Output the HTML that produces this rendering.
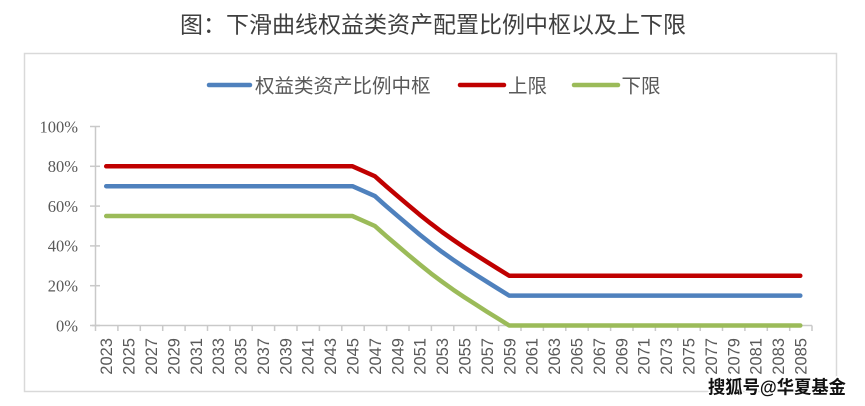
<!DOCTYPE html>
<html>
<head>
<meta charset="utf-8">
<style>
html,body{margin:0;padding:0;background:#fff;}
svg{display:block;}
</style>
</head>
<body>
<svg width="865" height="406" viewBox="0 0 865 406" xmlns="http://www.w3.org/2000/svg">
<rect x="0" y="0" width="865" height="406" fill="#fff"/>
<text x="433" y="32.5" text-anchor="middle" font-family="'Liberation Sans','Noto Sans CJK SC',sans-serif" font-size="23" fill="#3f3f3f">图：下滑曲线权益类资产配置比例中枢以及上下限</text>
<rect x="24.5" y="53.5" width="812" height="338" fill="none" stroke="#D9D9D9" stroke-width="1.5"/>
<!-- legend -->
<g stroke-width="4.5" stroke-linecap="round">
<line x1="209" y1="85" x2="250" y2="85" stroke="#4F81BD"/>
<line x1="460" y1="85" x2="504" y2="85" stroke="#C00000"/>
<line x1="574" y1="85" x2="618" y2="85" stroke="#9BBB59"/>
</g>
<g font-family="'Liberation Sans','Noto Sans CJK SC',sans-serif" font-size="19.5" fill="#595959">
<text x="255" y="92.5">权益类资产比例中枢</text>
<text x="508" y="92.5">上限</text>
<text x="621.5" y="92.5">下限</text>
</g>
<!-- axes -->
<g stroke="#C9C9C9" stroke-width="1.5" fill="none">
<line x1="95.5" y1="126.5" x2="95.5" y2="331"/>
<line x1="92" y1="325.5" x2="812" y2="325.5"/>
<line x1="90" y1="126.5" x2="100" y2="126.5"/>
<line x1="90" y1="166.3" x2="100" y2="166.3"/>
<line x1="90" y1="206.1" x2="100" y2="206.1"/>
<line x1="90" y1="245.9" x2="100" y2="245.9"/>
<line x1="90" y1="285.7" x2="100" y2="285.7"/>
<line x1="90" y1="325.5" x2="100" y2="325.5"/>
<path d="M117.9 325.5V331M140.3 325.5V331M162.7 325.5V331M185.1 325.5V331M207.5 325.5V331M229.9 325.5V331M252.2 325.5V331M274.6 325.5V331M297 325.5V331M319.4 325.5V331M341.8 325.5V331M364.2 325.5V331M386.6 325.5V331M409 325.5V331M431.4 325.5V331M453.8 325.5V331M476.2 325.5V331M498.6 325.5V331M521 325.5V331M543.4 325.5V331M565.8 325.5V331M588.2 325.5V331M610.6 325.5V331M633 325.5V331M655.4 325.5V331M677.8 325.5V331M700.2 325.5V331M722.5 325.5V331M744.9 325.5V331M767.3 325.5V331M789.7 325.5V331M812 325.5V331"/>
</g>
<!-- y labels -->
<g font-family="'Liberation Serif',serif" font-size="16.5" fill="#595959" text-anchor="end">
<text x="78" y="132.3">100%</text>
<text x="78" y="172.1">80%</text>
<text x="78" y="211.9">60%</text>
<text x="78" y="251.7">40%</text>
<text x="78" y="291.5">20%</text>
<text x="78" y="331.3">0%</text>
</g>
<!-- x labels -->
<g font-family="'Liberation Sans',sans-serif" font-size="16.5" fill="#595959" text-anchor="end">
<text transform="translate(112.2,338) rotate(-90)">2023</text>
<text transform="translate(134.6,338) rotate(-90)">2025</text>
<text transform="translate(157,338) rotate(-90)">2027</text>
<text transform="translate(179.4,338) rotate(-90)">2029</text>
<text transform="translate(201.8,338) rotate(-90)">2031</text>
<text transform="translate(224.2,338) rotate(-90)">2033</text>
<text transform="translate(246.6,338) rotate(-90)">2035</text>
<text transform="translate(268.9,338) rotate(-90)">2037</text>
<text transform="translate(291.3,338) rotate(-90)">2039</text>
<text transform="translate(313.7,338) rotate(-90)">2041</text>
<text transform="translate(336.1,338) rotate(-90)">2043</text>
<text transform="translate(358.5,338) rotate(-90)">2045</text>
<text transform="translate(380.9,338) rotate(-90)">2047</text>
<text transform="translate(403.3,338) rotate(-90)">2049</text>
<text transform="translate(425.7,338) rotate(-90)">2051</text>
<text transform="translate(448.1,338) rotate(-90)">2053</text>
<text transform="translate(470.5,338) rotate(-90)">2055</text>
<text transform="translate(492.9,338) rotate(-90)">2057</text>
<text transform="translate(515.3,338) rotate(-90)">2059</text>
<text transform="translate(537.7,338) rotate(-90)">2061</text>
<text transform="translate(560.1,338) rotate(-90)">2063</text>
<text transform="translate(582.5,338) rotate(-90)">2065</text>
<text transform="translate(604.9,338) rotate(-90)">2067</text>
<text transform="translate(627.3,338) rotate(-90)">2069</text>
<text transform="translate(649.7,338) rotate(-90)">2071</text>
<text transform="translate(672.1,338) rotate(-90)">2073</text>
<text transform="translate(694.5,338) rotate(-90)">2075</text>
<text transform="translate(716.9,338) rotate(-90)">2077</text>
<text transform="translate(739.3,338) rotate(-90)">2079</text>
<text transform="translate(761.7,338) rotate(-90)">2081</text>
<text transform="translate(784.1,338) rotate(-90)">2083</text>
<text transform="translate(806.3,338) rotate(-90)">2085</text>
</g>
<!-- series -->
<g fill="none" stroke-width="4.5" stroke-linecap="round" stroke-linejoin="round">
<polyline stroke="#9BBB59" points="106.2,216.05 352.5,216.05 374.9,226 386.1,235.95 397.3,245.5 408.5,255.05 419.7,264.4 430.9,273.4 442,281.7 453.2,289.7 464.4,297.2 475.6,304.4 486.8,311.6 498,318.5 509.2,325.5 800.3,325.5"/>
<polyline stroke="#4F81BD" points="106.2,186.2 352.5,186.2 374.9,196.1 386.1,206.1 397.3,215.7 408.5,225.2 419.7,234.6 430.9,243.5 442,251.9 453.2,259.8 464.4,267.4 475.6,274.6 486.8,281.7 498,288.7 509.2,295.65 800.3,295.65"/>
<polyline stroke="#C00000" points="106.2,166.3 352.5,166.3 374.9,176.25 386.1,186.2 397.3,195.8 408.5,205.3 419.7,214.7 430.9,223.6 442,232 453.2,239.9 464.4,247.5 475.6,254.7 486.8,261.8 498,268.8 509.2,275.75 800.3,275.75"/>
</g>
<!-- watermark -->
<text x="708" y="393.5" textLength="138" lengthAdjust="spacingAndGlyphs" font-family="'Liberation Sans','Noto Sans CJK SC',sans-serif" font-size="18" font-weight="bold" fill="#111" stroke="#fff" stroke-width="3" paint-order="stroke" stroke-linejoin="round">搜狐号@华夏基金</text>
</svg>
</body>
</html>
